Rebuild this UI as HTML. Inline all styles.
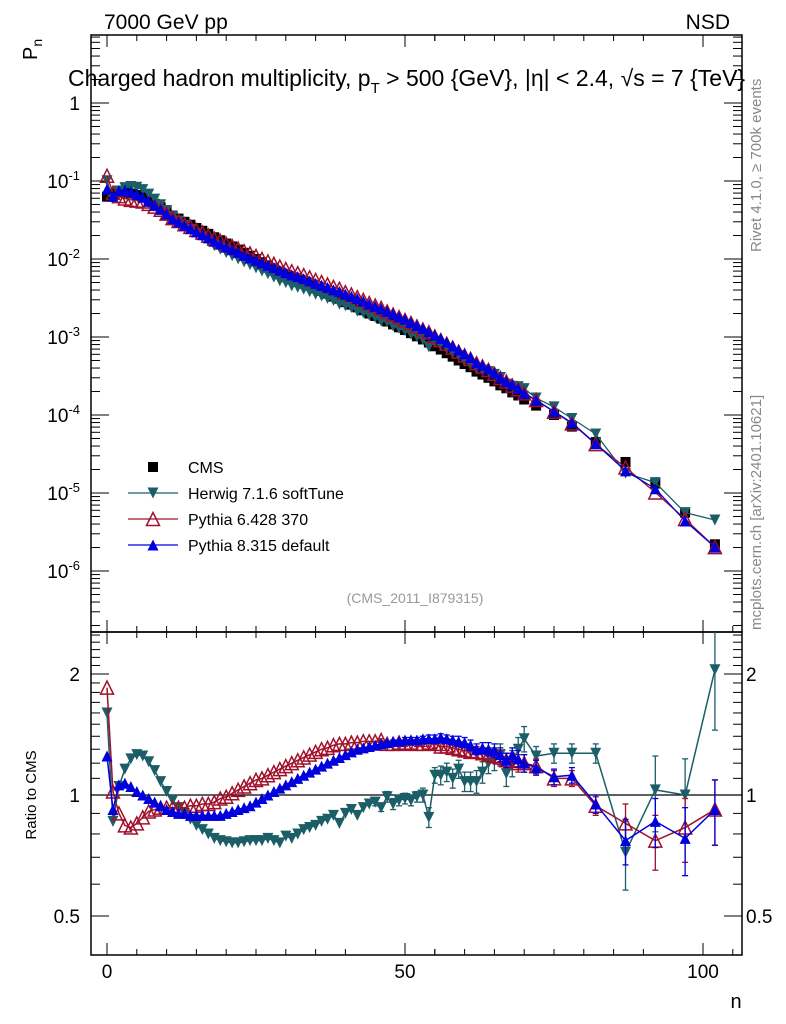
<!DOCTYPE html>
<html><head><meta charset="utf-8"><style>
body{margin:0;background:#fff}
svg{display:block;font-family:"Liberation Sans",sans-serif}
</style></head><body>
<svg id="chart" width="786" height="1024" viewBox="0 0 786 1024" xmlns="http://www.w3.org/2000/svg">
<defs>
<clipPath id="cm"><rect x="91" y="35" width="651" height="597"/></clipPath>
<clipPath id="cr"><rect x="91" y="632" width="651" height="323"/></clipPath>
</defs>
<text x="104" y="29" font-size="21">7000 GeV pp</text>
<text x="730" y="29" font-size="21" text-anchor="end">NSD</text>
<text transform="translate(37,60) rotate(-90)" font-size="20">P<tspan font-size="14" dy="5">n</tspan></text>
<text x="68" y="86" font-size="23">Charged hadron multiplicity, p<tspan font-size="15" dy="7">T</tspan><tspan dy="-7"> &gt; 500 {GeV}, |η| &lt; 2.4, √s = 7 {TeV}</tspan></text>
<text transform="translate(761,252) rotate(-90)" font-size="15" fill="#888">Rivet 4.1.0, ≥ 700k events</text>
<text transform="translate(761,630) rotate(-90)" font-size="15" fill="#888">mcplots.cern.ch [arXiv:2401.10621]</text>
<text x="415" y="603" font-size="14" fill="#999" text-anchor="middle">(CMS_2011_I879315)</text>
<text transform="translate(36,795) rotate(-90)" font-size="15" text-anchor="middle">Ratio to CMS</text>
<text x="736" y="1008" font-size="20" text-anchor="middle">n</text>
<g id="axes"></g>
<g id="main" clip-path="url(#cm)"></g>
<g id="ratio" clip-path="url(#cr)"></g>
<g id="legend"></g>
</svg>
<script>
const nVals=[0,1,2,3,4,5,6,7,8,9,10,11,12,13,14,15,16,17,18,19,20,21,22,23,24,25,26,27,28,29,30,31,32,33,34,35,36,37,38,39,40,41,42,43,44,45,46,47,48,49,50,51,52,53,54,55,56,57,58,59,60,61,62,63,64,65,66,67,68,69,70,72,75,78,82,87,92,97,102];
const cmsVals=[0.063,0.069,0.071,0.071,0.069,0.066,0.062,0.056,0.051,0.046,0.041,0.036,0.033,0.030,0.0275,0.025,0.023,0.021,0.019,0.0174,0.0158,0.0145,0.0132,0.0120,0.0110,0.0100,0.0091,0.0083,0.0076,0.0069,0.0063,0.0058,0.0054,0.0050,0.0046,0.0042,0.0039,0.0036,0.0033,0.0031,0.0028,0.0026,0.0024,0.0022,0.0020,0.00186,0.00172,0.00158,0.00145,0.00133,0.00123,0.00112,0.00102,0.00093,0.00085,0.00076,0.00069,0.00062,0.00056,0.00050,0.00045,0.00041,0.00036,0.00033,0.00030,0.00027,0.00024,0.00022,0.000195,0.000178,0.000158,0.000132,0.000100,0.000071,0.000045,0.000025,0.0000132,0.0000056,0.0000022];
const herwigRatio=[1.6,0.86,1.05,1.16,1.23,1.26,1.25,1.21,1.15,1.08,1.02,0.97,0.93,0.9,0.87,0.84,0.82,0.8,0.78,0.77,0.765,0.76,0.76,0.765,0.77,0.77,0.77,0.78,0.77,0.76,0.79,0.78,0.8,0.82,0.83,0.84,0.86,0.87,0.89,0.85,0.9,0.92,0.89,0.93,0.95,0.96,0.93,0.99,0.95,0.97,0.98,0.97,0.99,1.0,0.88,1.12,1.12,1.14,1.1,1.16,1.08,1.08,1.08,1.14,1.2,1.23,1.26,1.13,1.2,1.3,1.38,1.25,1.27,1.27,1.27,0.72,1.03,1.0,2.05];
const pythia6Ratio=[1.85,1.02,0.9,0.84,0.83,0.85,0.88,0.91,0.92,0.93,0.93,0.93,0.93,0.93,0.94,0.94,0.95,0.95,0.96,0.98,0.99,1.01,1.03,1.05,1.07,1.09,1.1,1.12,1.14,1.16,1.18,1.2,1.22,1.24,1.26,1.28,1.3,1.31,1.33,1.34,1.34,1.35,1.35,1.36,1.36,1.36,1.37,1.34,1.34,1.35,1.34,1.35,1.34,1.34,1.35,1.34,1.32,1.32,1.31,1.3,1.29,1.28,1.28,1.27,1.26,1.25,1.24,1.22,1.22,1.2,1.2,1.18,1.1,1.1,0.94,0.85,0.77,0.83,0.92];
const pythia8Ratio=[1.25,0.92,1.06,1.07,1.05,1.02,1.0,0.98,0.96,0.94,0.92,0.91,0.9,0.9,0.89,0.89,0.89,0.89,0.89,0.89,0.9,0.91,0.92,0.93,0.94,0.96,0.98,1.0,1.02,1.04,1.06,1.08,1.1,1.12,1.14,1.16,1.18,1.2,1.22,1.24,1.26,1.28,1.3,1.31,1.32,1.33,1.34,1.35,1.36,1.36,1.37,1.37,1.37,1.38,1.38,1.38,1.39,1.38,1.37,1.36,1.35,1.33,1.3,1.31,1.3,1.29,1.26,1.22,1.26,1.23,1.2,1.17,1.11,1.12,0.95,0.77,0.86,0.78,0.92];
const ratioErr=[0,0,0,0,0,0,0,0,0,0,0,0,0,0,0,0,0,0,0,0,0,0,0,0,0,0,0,0,0,0,0,0,0,0,0,0,0,0,0,0,0,0,0,0,0,0,0.01,0.01,0.01,0.01,0.02,0.02,0.02,0.02,0.03,0.03,0.03,0.03,0.03,0.04,0.04,0.04,0.04,0.04,0.05,0.05,0.05,0.05,0.05,0.06,0.06,0.05,0.05,0.05,0.05,0.1,0.12,0.15,0.17];
const herwigErr=[0,0,0,0,0,0,0,0,0,0,0,0,0,0,0,0,0,0,0,0,0,0,0,0,0,0,0,0,0,0,0,0,0,0,0,0,0,0,0,0,0,0,0,0,0,0.02,0.02,0.03,0.03,0.03,0.03,0.03,0.03,0.04,0.05,0.05,0.06,0.06,0.06,0.06,0.06,0.06,0.07,0.07,0.07,0.08,0.08,0.08,0.09,0.09,0.1,0.07,0.07,0.07,0.07,0.14,0.22,0.23,0.6];
const mainTickExps=[0,-1,-2,-3,-4,-5,-6];
const ratioTickLabels=[0.5,1,2];
const xTickLabels=[0,50,100];

const NS="http://www.w3.org/2000/svg";
const L=91,R=742,MT=35,MB=632,RT=632,RB=955;
const xs=n=>107+n*5.96;
const ym=p=>103-78*Math.log10(p);
const yr=r=>795-121*Math.log2(r);
function mk(parent,tag,attrs,text){const e=document.createElementNS(NS,tag);for(const k in attrs)e.setAttribute(k,attrs[k]);if(text!==undefined)e.textContent=text;parent.appendChild(e);return e;}
const axes=document.getElementById('axes'),main=document.getElementById('main'),ratio=document.getElementById('ratio'),legend=document.getElementById('legend');

let f1=mk(axes,'rect',{x:L,y:MT,width:R-L,height:MB-MT,fill:'none',stroke:'#000','stroke-width':1.5});


let f2=mk(axes,'rect',{x:L,y:RT,width:R-L,height:RB-RT,fill:'none',stroke:'#000','stroke-width':1.5});


for(let n=0;n<=105;n+=10){
  const maj=(n%50===0);
  for(const [top,bot] of [[MT,MB],[RT,RB]]){
    const l=maj?12:6;
    mk(axes,'line',{x1:xs(n),x2:xs(n),y1:top,y2:top+l,stroke:'#000','stroke-width':1});
    mk(axes,'line',{x1:xs(n),x2:xs(n),y1:bot,y2:bot-l,stroke:'#000','stroke-width':1});
  }
  if(n%50!==0){for(const [top,bot] of [[MT,MB],[RT,RB]]){
    mk(axes,'line',{x1:xs(n-5),x2:xs(n-5),y1:top,y2:top+6,stroke:'#000'});
    mk(axes,'line',{x1:xs(n-5),x2:xs(n-5),y1:bot,y2:bot-6,stroke:'#000'});}}
}
for(const [top,bot] of [[MT,MB],[RT,RB]]){mk(axes,'line',{x1:xs(55),x2:xs(55),y1:top,y2:top+6,stroke:'#000'});mk(axes,'line',{x1:xs(55),x2:xs(55),y1:bot,y2:bot-6,stroke:'#000'});mk(axes,'line',{x1:xs(105),x2:xs(105),y1:bot,y2:bot-6,stroke:'#000'});}
xTickLabels.forEach(v=>{const t=mk(axes,'text',{x:xs(v),y:978,'font-size':19,'text-anchor':'middle'},String(v));

});
for(let e=-7;e<=0;e++){for(let m=1;m<10;m++){const y=ym(m*Math.pow(10,e));if(y<MT||y>MB)continue;const l=m===1?18:9;
  mk(axes,'line',{x1:L,x2:L+l,y1:y,y2:y,stroke:'#000'});mk(axes,'line',{x1:R,x2:R-l,y1:y,y2:y,stroke:'#000'});}}
mainTickExps.forEach(e=>{const y=ym(Math.pow(10,e));let t;
  if(e===0){t=mk(axes,'text',{x:80,y:y+7,'font-size':19,'text-anchor':'end'},'1');}
  else{t=mk(axes,'text',{x:80,y:y+7,'font-size':19,'text-anchor':'end'});t.textContent='';mk(t,'tspan',{},'10');mk(t,'tspan',{dy:-8,'font-size':13},String(e));}
  
  });
for(let v=0.4;v<=2.55;v=Math.round((v+0.1)*10)/10){const y=yr(v);if(y<RT||y>RB)continue;const maj=(v===0.5||v===1||v===2);const l=maj?18:9;
  mk(axes,'line',{x1:L,x2:L+l,y1:y,y2:y,stroke:'#000'});mk(axes,'line',{x1:R,x2:R-l,y1:y,y2:y,stroke:'#000'});}
ratioTickLabels.forEach(v=>{const y=yr(v);
  const t1=mk(axes,'text',{x:80,y:y+7,'font-size':19,'text-anchor':'end'},String(v));
  
  
  const t2=mk(axes,'text',{x:746,y:y+7,'font-size':19},String(v));
  
  });
const unity=mk(ratio,'line',{x1:L,x2:R,y1:yr(1),y2:yr(1),stroke:'#000','stroke-width':1.3});



function marker(g,kind,cx,cy,color,s){
  s=s||5.5;
  if(kind==='sq')return mk(g,'rect',{x:cx-5,y:cy-5,width:10,height:10,fill:color});
  if(kind==='down')return mk(g,'polygon',{points:`${cx-s},${cy-s} ${cx+s},${cy-s} ${cx},${cy+s}`,fill:color});
  if(kind==='upo')return mk(g,'polygon',{points:`${cx-s},${cy+s} ${cx+s},${cy+s} ${cx},${cy-s}`,fill:'none',stroke:color,'stroke-width':1.5});
  return mk(g,'polygon',{points:`${cx-s},${cy+s} ${cx+s},${cy+s} ${cx},${cy-s}`,fill:color});
}
const series=[
 {name:'herwig',ratio:herwigRatio,err:herwigErr,color:'#1b5e68',kind:'down'},
 {name:'pythia6',ratio:pythia6Ratio,err:ratioErr,color:'#a0102a',kind:'upo'},
 {name:'pythia8',ratio:pythia8Ratio,err:ratioErr,color:'#0000dd',kind:'up'}];
nVals.forEach((n,i)=>{const m=marker(main,'sq',xs(n),ym(cmsVals[i]),'#000');

});
series.forEach(s=>{
  const gm=mk(main,'g',{});
  
  
  const pts=nVals.map((n,i)=>xs(n)+','+ym(cmsVals[i]*s.ratio[i])).join(' ');
  mk(gm,'polyline',{points:pts,fill:'none',stroke:s.color,'stroke-width':1.3});
  nVals.forEach((n,i)=>{const m=marker(gm,s.kind,xs(n),ym(cmsVals[i]*s.ratio[i]),s.color,s.kind==='upo'?6.5:5.5);
  
  });
  const gr=mk(ratio,'g',{});
  
  
  mk(gr,'polyline',{points:nVals.map((n,i)=>xs(n)+','+yr(s.ratio[i])).join(' '),fill:'none',stroke:s.color,'stroke-width':1.5});
  nVals.forEach((n,i)=>{const e=s.err[i];if(e>0){const x=xs(n),y1=yr(s.ratio[i]+e),y2=yr(Math.max(0.05,s.ratio[i]-e));
    mk(gr,'line',{x1:x,x2:x,y1:y1,y2:y2,stroke:s.color,'stroke-width':1.3});
    mk(gr,'line',{x1:x-3,x2:x+3,y1:y1,y2:y1,stroke:s.color,'stroke-width':1.3});
    mk(gr,'line',{x1:x-3,x2:x+3,y1:y2,y2:y2,stroke:s.color,'stroke-width':1.3});}
    const m=marker(gr,s.kind,xs(n),yr(s.ratio[i]),s.color,s.kind==='upo'?6.5:5.5);
    
    });
});
const legItems=[['sq','#000','CMS'],['down','#1b5e68','Herwig 7.1.6 softTune'],['upo','#a0102a','Pythia 6.428 370'],['up','#0000dd','Pythia 8.315 default']];
legItems.forEach((it,i)=>{const y=467+i*26;const g=mk(legend,'g',{});
  
  
  if(i>0)mk(g,'line',{x1:128,x2:178,y1:y,y2:y,stroke:it[1],'stroke-width':1.3});
  marker(g,it[0],153,y,it[1],it[0]==='upo'?6.5:5.5);
  mk(g,'text',{x:188,y:y+6,'font-size':16},it[2]);});
</script>
</body></html>
